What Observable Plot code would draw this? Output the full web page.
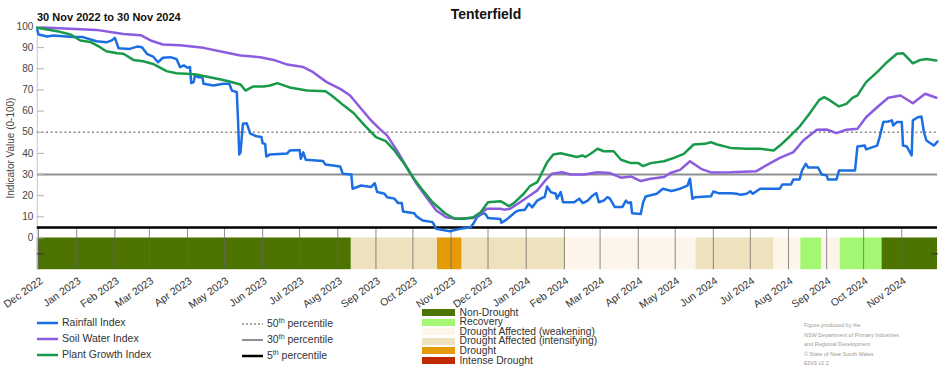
<!DOCTYPE html>
<html>
<head>
<meta charset="utf-8">
<script src="https://cdn.jsdelivr.net/npm/d3@7"></script>
<script src="https://cdn.jsdelivr.net/npm/@observablehq/plot@0.6"></script>
<style>
  body { margin: 0; background: #fff; font-family: "Liberation Sans", Arial, sans-serif; }
  #wrap { position: relative; width: 952px; height: 370px; overflow: hidden; }
  #chart { position: absolute; left: 0; top: 0; }
  .title { position: absolute; left: 0; width: 972px; top: 6px; text-align: center; font-weight: bold; font-size: 14px; color: #111; }
  .subtitle { position: absolute; left: 37px; top: 11px; font-weight: bold; font-size: 11px; color: #111; }
  .leg { position: absolute; font-size: 10.5px; color: #333; }
  .lrow { position: absolute; white-space: nowrap; height: 14px; line-height: 14px; }
  .lrow sup { font-size: 7px; vertical-align: 4px; line-height: 0; }
  .crow { position: absolute; white-space: nowrap; height: 9.6px; line-height: 9.6px; font-size: 10.3px; color: #333; }
  .crow .sw { display: inline-block; width: 33px; height: 7px; vertical-align: -0.5px; margin-right: 5px; }
  .credit { position: absolute; left: 804px; top: 321px; font-size: 5.5px; line-height: 9.6px; color: #9a9a9a; }
</style>
</head>
<body>
<div id="wrap">
  <div id="chart"></div>
  <div class="title">Tenterfield</div>
  <div class="subtitle">30 Nov 2022 to 30 Nov 2024</div>
  <div id="legend"></div>
  <div class="credit">Figure produced by the<br>NSW Department of Primary Industries<br>and Regional Development<br>© State of New South Wales<br>EDIS v2.2</div>
</div>
<script>
// ---------- DATA ----------
const rainfallIndex = [
["2022-11-30",98.4],["2022-12-01",96.2],["2022-12-08",95.3],["2022-12-13",95.7],["2022-12-29",95.0],["2023-01-06",95.0],["2023-01-17",93.0],["2023-01-25",92.5],["2023-01-29",93.3],["2023-02-01",94.6],["2023-02-04",89.7],["2023-02-13",89.4],["2023-02-19",90.5],["2023-02-23",90.2],["2023-02-27",87.1],["2023-03-04",85.8],["2023-03-08",83.1],["2023-03-12",85.2],["2023-03-18",85.5],["2023-03-23",84.6],["2023-03-26",80.8],["2023-03-29",81.6],["2023-04-01",80.5],["2023-04-03",80.8],["2023-04-04",73.2],["2023-04-06",73.7],["2023-04-07",76.8],["2023-04-10",76.0],["2023-04-13",76.3],["2023-04-14",72.9],["2023-04-22",72.1],["2023-04-30",72.9],["2023-05-05",72.9],["2023-05-07",69.7],["2023-05-11",69.0],["2023-05-12",55.6],["2023-05-13",39.5],["2023-05-14",40.5],["2023-05-16",54.0],["2023-05-19",54.3],["2023-05-22",49.3],["2023-05-27",48.1],["2023-05-31",47.8],["2023-06-01",44.8],["2023-06-03",44.5],["2023-06-04",38.5],["2023-06-07",39.5],["2023-06-21",40.0],["2023-06-23",41.4],["2023-07-01",41.6],["2023-07-02",37.4],["2023-07-04",40.5],["2023-07-06",37.0],["2023-07-20",36.4],["2023-07-22",34.7],["2023-08-03",33.8],["2023-08-05",30.4],["2023-08-12",30.0],["2023-08-13",23.3],["2023-08-20",24.8],["2023-08-28",24.1],["2023-08-31",25.9],["2023-09-02",21.7],["2023-09-08",20.9],["2023-09-10",19.3],["2023-09-16",18.6],["2023-09-19",16.5],["2023-09-22",16.5],["2023-09-23",12.5],["2023-10-02",11.7],["2023-10-04",10.2],["2023-10-09",8.3],["2023-10-17",7.5],["2023-10-20",4.3],["2023-10-31",3.2],["2023-11-08",4.3],["2023-11-17",5.1],["2023-11-19",6.7],["2023-11-22",9.8],["2023-11-27",11.7],["2023-11-29",11.3],["2023-12-01",9.4],["2023-12-11",9.0],["2023-12-12",7.2],["2023-12-16",8.7],["2023-12-23",12.2],["2023-12-26",13.0],["2023-12-31",13.4],["2024-01-03",16.2],["2024-01-06",14.5],["2024-01-10",17.7],["2024-01-14",19.0],["2024-01-16",19.3],["2024-01-18",24.3],["2024-01-21",21.7],["2024-01-25",20.9],["2024-01-26",18.6],["2024-01-29",21.7],["2024-01-31",16.9],["2024-02-09",16.9],["2024-02-13",18.6],["2024-02-16",16.5],["2024-02-20",17.7],["2024-02-24",20.1],["2024-02-27",21.2],["2024-02-29",16.9],["2024-03-04",17.7],["2024-03-07",19.3],["2024-03-09",18.6],["2024-03-13",14.6],["2024-03-19",14.6],["2024-03-22",17.7],["2024-03-24",16.5],["2024-03-26",16.9],["2024-03-27",11.7],["2024-04-03",11.3],["2024-04-05",16.9],["2024-04-07",19.6],["2024-04-16",20.9],["2024-04-21",23.3],["2024-04-28",22.2],["2024-05-05",23.3],["2024-05-11",24.8],["2024-05-13",28.0],["2024-05-15",18.5],["2024-05-17",19.3],["2024-05-30",19.7],["2024-06-01",22.0],["2024-06-05",21.2],["2024-06-15",21.2],["2024-06-20",20.9],["2024-06-23",20.4],["2024-06-28",20.9],["2024-07-01",22.1],["2024-07-03",20.9],["2024-07-09",23.3],["2024-07-25",23.3],["2024-07-27",25.3],["2024-08-03",25.3],["2024-08-05",27.7],["2024-08-10",27.7],["2024-08-12",31.9],["2024-08-15",35.1],["2024-08-17",33.3],["2024-08-25",33.3],["2024-08-28",30.0],["2024-09-01",29.6],["2024-09-02",27.7],["2024-09-09",27.7],["2024-09-11",31.9],["2024-09-24",31.9],["2024-09-26",43.3],["2024-10-02",43.7],["2024-10-03",41.9],["2024-10-09",43.1],["2024-10-12",43.7],["2024-10-14",47.7],["2024-10-17",54.8],["2024-10-21",55.1],["2024-10-24",55.6],["2024-10-25",53.2],["2024-10-28",54.8],["2024-11-01",54.8],["2024-11-02",43.7],["2024-11-05",43.3],["2024-11-09",39.0],["2024-11-10",55.6],["2024-11-14",57.1],["2024-11-17",57.4],["2024-11-19",50.0],["2024-11-21",46.1],["2024-11-27",43.7],["2024-11-30",45.6]
];
const soilWaterIndex = [
["2022-11-30",99.7],["2023-01-17",98.4],["2023-02-08",96.5],["2023-02-22",95.9],["2023-03-02",93.4],["2023-03-12",91.5],["2023-03-26",91.1],["2023-04-14",89.9],["2023-05-03",87.6],["2023-05-14",86.3],["2023-05-30",85.5],["2023-06-10",84.2],["2023-06-21",82.0],["2023-07-04",80.8],["2023-07-12",78.4],["2023-07-23",73.7],["2023-08-03",70.5],["2023-08-11",67.4],["2023-08-20",61.1],["2023-08-28",55.6],["2023-09-04",51.6],["2023-09-10",48.5],["2023-09-18",41.4],["2023-09-26",33.5],["2023-10-04",25.6],["2023-10-12",19.3],["2023-10-20",13.0],["2023-10-28",9.8],["2023-11-06",9.1],["2023-11-19",9.5],["2023-11-25",11.4],["2023-11-30",13.8],["2023-12-11",13.8],["2023-12-14",13.4],["2023-12-19",13.8],["2023-12-27",16.9],["2024-01-04",20.1],["2024-01-10",22.5],["2024-01-17",27.5],["2024-01-22",30.4],["2024-01-30",31.1],["2024-02-06",30.0],["2024-02-17",30.0],["2024-02-28",31.1],["2024-03-09",30.7],["2024-03-18",28.5],["2024-03-26",29.1],["2024-04-03",26.9],["2024-04-11",28.0],["2024-04-22",28.8],["2024-04-27",30.7],["2024-05-05",32.2],["2024-05-13",36.3],["2024-05-22",32.7],["2024-05-30",31.0],["2024-06-15",31.1],["2024-07-06",31.6],["2024-07-15",34.7],["2024-07-25",37.9],["2024-08-05",40.6],["2024-08-13",46.1],["2024-08-24",51.2],["2024-09-01",51.3],["2024-09-09",49.6],["2024-09-17",51.2],["2024-09-26",51.6],["2024-10-03",57.1],["2024-10-12",61.8],["2024-10-21",66.3],["2024-10-31",67.4],["2024-11-10",63.7],["2024-11-20",68.2],["2024-11-29",66.3]
];
const plantGrowthIndex = [
["2022-11-30",99.4],["2022-12-16",97.8],["2022-12-27",96.2],["2023-01-04",93.4],["2023-01-12",92.7],["2023-01-20",90.2],["2023-01-25",88.3],["2023-02-03",87.4],["2023-02-08",87.1],["2023-02-16",84.2],["2023-02-24",83.6],["2023-03-04",82.3],["2023-03-15",78.9],["2023-03-23",77.9],["2023-03-31",77.6],["2023-04-08",77.3],["2023-04-19",76.0],["2023-04-29",74.8],["2023-05-05",74.0],["2023-05-14",72.6],["2023-05-18",69.7],["2023-05-24",71.6],["2023-06-02",71.6],["2023-06-07",72.1],["2023-06-13",73.2],["2023-06-24",71.0],["2023-07-07",69.7],["2023-07-22",69.4],["2023-07-27",67.4],["2023-08-06",62.6],["2023-08-14",59.0],["2023-08-22",53.7],["2023-09-01",47.7],["2023-09-09",45.8],["2023-09-16",41.4],["2023-09-24",35.1],["2023-10-01",28.7],["2023-10-09",22.5],["2023-10-17",16.9],["2023-10-27",11.7],["2023-11-04",9.1],["2023-11-11",9.1],["2023-11-19",9.8],["2023-11-25",12.2],["2023-12-01",16.9],["2023-12-11",17.4],["2023-12-14",16.5],["2023-12-18",15.0],["2023-12-22",16.5],["2023-12-30",20.9],["2024-01-04",24.5],["2024-01-10",26.4],["2024-01-12",28.7],["2024-01-18",35.8],["2024-01-23",39.5],["2024-01-29",40.1],["2024-02-06",39.0],["2024-02-11",38.3],["2024-02-16",39.0],["2024-02-18",38.3],["2024-02-22",39.7],["2024-02-28",42.2],["2024-03-04",41.0],["2024-03-12",41.0],["2024-03-18",37.0],["2024-03-26",35.4],["2024-04-01",35.4],["2024-04-05",34.0],["2024-04-11",35.4],["2024-04-22",36.3],["2024-04-30",37.9],["2024-05-08",39.8],["2024-05-16",44.2],["2024-05-25",44.5],["2024-05-30",45.3],["2024-06-04",44.2],["2024-06-15",42.6],["2024-06-28",42.2],["2024-07-09",42.2],["2024-07-20",41.4],["2024-07-25",43.7],["2024-08-02",48.0],["2024-08-10",52.7],["2024-08-18",58.7],["2024-08-26",65.3],["2024-08-30",66.6],["2024-09-03",65.3],["2024-09-11",62.2],["2024-09-17",63.4],["2024-09-22",66.3],["2024-09-26",67.4],["2024-10-03",73.7],["2024-10-12",78.4],["2024-10-20",83.1],["2024-10-28",87.1],["2024-11-02",87.4],["2024-11-10",82.6],["2024-11-16",84.2],["2024-11-21",84.6],["2024-11-29",83.9]
];
const droughtPeriods = [
["2022-11-30","2023-08-12","Non-Drought"],
["2023-08-12","2023-10-21","Drought Affected (intensifying)"],
["2023-10-21","2023-11-10","Drought"],
["2023-11-10","2024-02-02","Drought Affected (intensifying)"],
["2024-02-02","2024-05-18","Drought Affected (weakening)"],
["2024-05-18","2024-07-20","Drought Affected (intensifying)"],
["2024-07-20","2024-08-11","Drought Affected (weakening)"],
["2024-08-11","2024-08-28","Recovery"],
["2024-08-28","2024-09-12","Drought Affected (weakening)"],
["2024-09-12","2024-10-16","Recovery"],
["2024-10-16","2024-11-30","Non-Drought"]
];
const categories = ["Non-Drought","Recovery","Drought Affected (weakening)","Drought Affected (intensifying)","Drought","Intense Drought"];
const categoryColors = ["#4d7300","#a3f772","#fdf5e9","#ede1be","#e49b06","#bf2a00"];
const seriesNames = ["Rainfall Index","Soil Water Index","Plant Growth Index"];
const seriesColors = ["#1c6fe3","#8b5be0","#19994a"];
const percentiles = [50, 30, 5];
const yTicks = [0,10,20,30,40,50,60,70,80,90,100];
const monthTicks = ["2022-12-01","2023-01-01","2023-02-01","2023-03-01","2023-04-01","2023-05-01","2023-06-01","2023-07-01","2023-08-01","2023-09-01","2023-10-01","2023-11-01","2023-12-01","2024-01-01","2024-02-01","2024-03-01","2024-04-01","2024-05-01","2024-06-01","2024-07-01","2024-08-01","2024-09-01","2024-10-01","2024-11-01"];
const dateStart = "2022-11-30", dateEnd = "2024-11-30";
const bandBottom = -15;

// ---------- BUILD ----------
const P = d3.utcParse("%Y-%m-%d");
const toRows = (arr) => arr.map(([d, v]) => ({date: P(d), value: v}));
const seriesData = [rainfallIndex, soilWaterIndex, plantGrowthIndex].map(toRows);
const bands = droughtPeriods.map(([s, e, c]) => ({start: P(s), end: P(e), category: c}));
const ticks = monthTicks.map(P);
const x0 = P(dateStart), x1 = P(dateEnd);

const chart = Plot.plot({
  width: 952,
  height: 305,
  marginTop: 26,
  marginBottom: 35.8,
  marginLeft: 36.8,
  marginRight: 15,
  x: {type: "utc", domain: [x0, x1]},
  y: {domain: [bandBottom, 100]},
  color: {domain: categories, range: categoryColors},
  style: {fontFamily: "'Liberation Sans', Arial, sans-serif", fontSize: "10px", color: "#333", background: "transparent", overflow: "visible"},
  marks: [
    Plot.rect(bands, {x1: "start", x2: "end", y1: () => bandBottom, y2: () => 0, fill: "category"}),
    Plot.ruleX(ticks, {x: d => d, y1: () => bandBottom, y2: () => 5, stroke: "#666", strokeOpacity: 0.75, strokeWidth: 1}),
    Plot.ruleX([x0], {y1: () => bandBottom, y2: () => 100, stroke: "#c8c8c8", strokeWidth: 1}),
    Plot.ruleY([percentiles[0]], {stroke: "#888", strokeWidth: 1.5, strokeDasharray: "2,2.6"}),
    Plot.ruleY([percentiles[1]], {stroke: "#8f8f8f", strokeWidth: 2}),
    Plot.ruleY([percentiles[2]], {stroke: "#000", strokeWidth: 2.5}),
    Plot.lineY(seriesData[0], {x: "date", y: "value", stroke: seriesColors[0], strokeWidth: 2.5}),
    Plot.lineY(seriesData[1], {x: "date", y: "value", stroke: seriesColors[1], strokeWidth: 2.5}),
    Plot.lineY(seriesData[2], {x: "date", y: "value", stroke: seriesColors[2], strokeWidth: 2.5}),
    Plot.axisY({ticks: yTicks, tickSize: 7, dx: 7, text: null, label: null, stroke: "#b0b0b0"}),
    Plot.axisY({ticks: [-7.5], tickSize: 7, dx: 7, text: null, label: null, stroke: "#333"}),
    Plot.axisY({anchor: "right", ticks: [-7.5], tickSize: 7, dx: -7, text: null, label: null, stroke: "#333"}),
    Plot.axisY({ticks: yTicks, tickSize: 0, tickPadding: 4, fill: "#444", label: "Indicator Value (0-100)", labelAnchor: "center", labelArrow: "none", labelOffset: 30}),
    Plot.axisX({ticks: ticks, tickFormat: d3.utcFormat("%b %Y"), tickRotate: -35, tickSize: 0, tickPadding: 10, dx: 3, fontSize: 10.5, fill: "#333", label: null})
  ]
});
document.getElementById("chart").appendChild(chart);

// ---------- LEGEND ----------
const legend = document.getElementById("legend");
const lineRows = [
  {text: seriesNames[0], color: seriesColors[0], dash: null, w: 2.5, x: 37, y: 315},
  {text: seriesNames[1], color: seriesColors[1], dash: null, w: 2.5, x: 37, y: 331},
  {text: seriesNames[2], color: seriesColors[2], dash: null, w: 2.5, x: 37, y: 347},
  {html: percentiles[0] + "<sup>th</sup> percentile", color: "#888", dash: "2,2", w: 1.5, x: 242, y: 316},
  {html: percentiles[1] + "<sup>th</sup> percentile", color: "#8f8f8f", dash: null, w: 2, x: 242, y: 332},
  {html: percentiles[2] + "<sup>th</sup> percentile", color: "#000", dash: null, w: 2.5, x: 242, y: 348}
];
for (const r of lineRows) {
  const div = document.createElement("div");
  div.className = "lrow leg";
  div.style.left = r.x + "px";
  div.style.top = r.y + "px";
  const svg = `<svg width="21" height="4" style="display:inline-block;vertical-align:middle;margin-right:4px"><line x1="0" x2="21" y1="2" y2="2" stroke="${r.color}" stroke-width="${r.w}" ${r.dash ? `stroke-dasharray="${r.dash}"` : ""}/></svg>`;
  div.innerHTML = svg + (r.html || r.text);
  legend.appendChild(div);
}
categories.forEach((c, i) => {
  const div = document.createElement("div");
  div.className = "crow";
  div.style.left = "421.5px";
  div.style.top = (307.5 + i * 9.6) + "px";
  div.innerHTML = `<span class="sw" style="background:${categoryColors[i]}"></span>${c}`;
  legend.appendChild(div);
});
</script>
</body>
</html>
